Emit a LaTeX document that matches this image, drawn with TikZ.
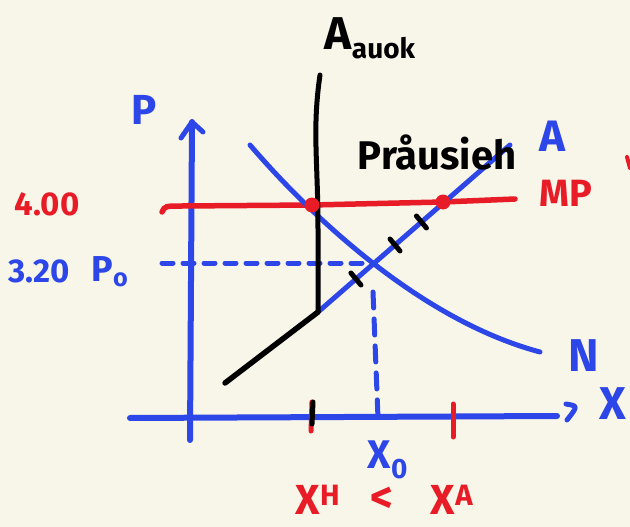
\documentclass[tikz,border=0pt]{standalone}
\usepackage{fontspec}
\setmainfont{Fira Sans}
\definecolor{bg}{RGB}{248,245,233}
\definecolor{pblue}{RGB}{45,70,232}
\definecolor{pred}{RGB}{232,28,38}
\tikzset{
  axis/.style={pblue, line width=6pt},
  curve/.style={line width=5pt},
  tickmark/.style={line width=5pt},
  lbl/.style={inner sep=0pt, font=\fontsize{#1}{#1}\selectfont\bfseries},
  lbl/.default=30,
  dot/.style={circle, fill=pred, minimum size=15pt, inner sep=0pt}
}
\begin{document}
\begin{tikzpicture}[x=1pt,y=-1pt, line cap=round, line join=round]
\fill[bg] (0,0) rectangle (630,527);
\useasboundingbox (0,0) rectangle (630,527);

% axes
\coordinate (yb) at (190,440);
\coordinate (yt) at (192,122);
\coordinate (yl) at (181,138);
\coordinate (yr) at (203,132);
\draw[axis] (yb) -- (yt);
\draw[axis, line width=5pt] (yl) -- (yt) -- (yr);
\coordinate (xl) at (130,418);
\coordinate (xr) at (557,416);
\draw[axis] (xl) -- (xr);
\coordinate (ha) at (566,404);
\coordinate (hb) at (567,420);
\draw[axis, line width=5pt] (ha) .. controls (578,406) .. (hb);

% MP line
\coordinate (mp0) at (162,212);
\coordinate (mp1) at (515,199);
\draw[pred, curve, line width=5.5pt] (mp0) .. controls (165,206) .. (182,206) -- (312,205) -- (443,202) -- (mp1);

% P0 dashed line
\coordinate (pd0) at (162,263);
\coordinate (pd1) at (370,263);
\draw[pblue, line width=5pt, dash pattern=on 11pt off 10pt] (pd0) -- (pd1);

% X0 dash-dot line
\coordinate (xd0) at (373,292);
\coordinate (xd1) at (378,418);
\draw[pblue, line width=5pt, dash pattern=on 16pt off 11pt] (xd0) -- (xd1);

% demand N
\coordinate (n0) at (250,145);
\coordinate (n1) at (540,352);
\draw[pblue, curve] (n0) .. controls (310,215) and (420,320) .. (n1);

% supply A
\coordinate (k) at (318,312);
\coordinate (a1) at (510,145);
\draw[pblue, curve] (k) -- (a1);

% autarky supply
\coordinate (s0) at (225,383);
\coordinate (stop) at (320,75);
\draw[black, curve, line width=5.5pt] (s0) -- (k);
\draw[black, curve] (k) -- (318,230) .. controls (318,160) and (312,130) .. (stop);

% ticks on A
\foreach \y in {279,245,222}{
  \pgfmathsetmacro{\xx}{318+(312-\y)/0.87}
  \draw[black, tickmark] (\xx-5,\y-6) -- (\xx+5,\y+6);
}

% dots
\node[dot] (d1) at (312,205) {};
\node[dot] (d2) at (443,202) {};

% x-axis ticks
\coordinate (t1a) at (312,402); \coordinate (t1b) at (311,431);
\draw[pred, tickmark] (t1a) -- (t1b);
\draw[black, tickmark] (313,402) -- (312,424);
\coordinate (t2a) at (453,404); \coordinate (t2b) at (453,437);
\draw[pred, tickmark] (t2a) -- (t2b);

% red edge mark
\coordinate (e0) at (627,157); \coordinate (e1) at (630,168);
\draw[pred, line width=4pt] (e0) -- (e1);

% labels
\node[lbl=42, pblue] (P) at (144,110) {P};
\node[lbl=33, pred] (v400) at (47,204) {4.00};
\node[lbl=33, pblue] (v320) at (39,271) {3.20};
\node[lbl=36, pblue] (P0) at (110,272) {P$_{\mathbf{o}}$};
\node[lbl=38, pred] (MP) at (566,193) {MP};
\node[lbl=44, pblue] (A) at (552,136) {A};
\node[lbl=46, pblue] (N) at (584,356) {N};
\node[lbl=46, pblue] (X) at (613,404) {X};
\node[lbl=40, pblue] (X0) at (388,460) {X$_{\mathbf{0}}$};
\node[lbl=42, pred] (XH) at (318,500) {X$^{\mathbf{H}}$};
\node[lbl=44, pred] (lt) at (382,500) {<};
\node[lbl=42, pred] (XA) at (452,500) {X$^{\mathbf{A}}$};
\node[lbl=40, black] (pr) at (437,152) {Pråusieh};
\node[lbl=46, black] (Aa) at (370,38) {A\raisebox{-9pt}{\fontsize{28}{28}\selectfont auok}};
\end{tikzpicture}
\end{document}
